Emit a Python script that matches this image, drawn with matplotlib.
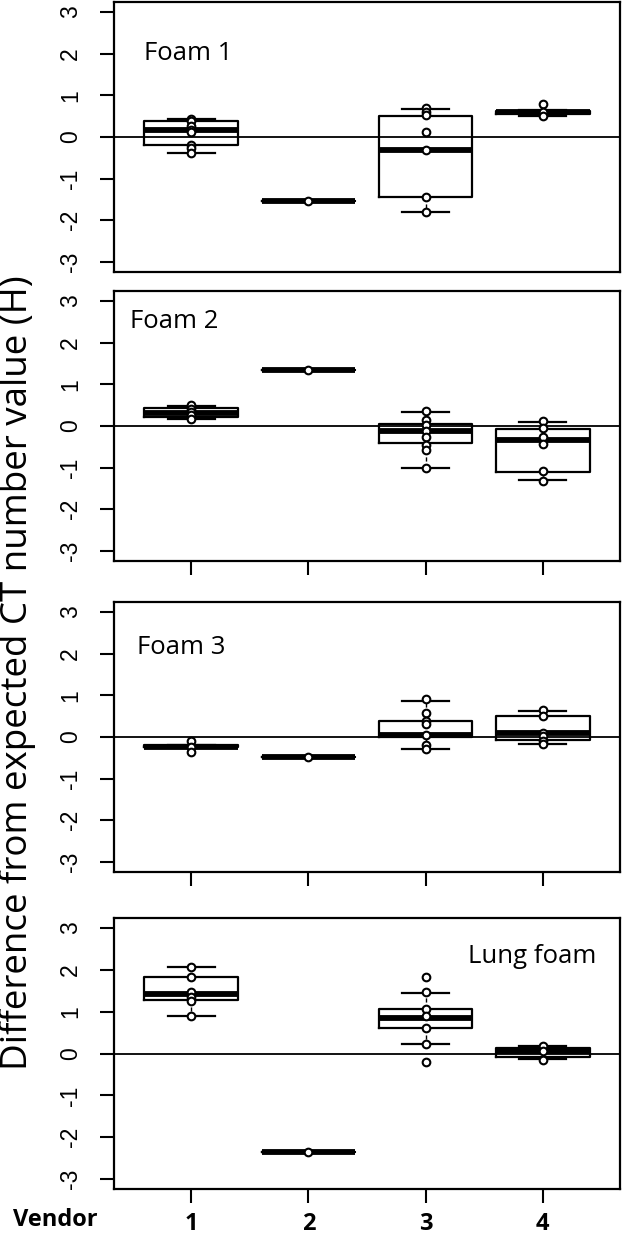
import matplotlib
matplotlib.use("Agg")
import matplotlib.pyplot as plt
from matplotlib import font_manager

# ---------------- data ----------------
panel_names = ["Foam 1", "Foam 2", "Foam 3", "Lung foam"]
vendors = [1, 2, 3, 4]
vendor_labels = ["1", "2", "3", "4"]
y_ticks = [-3, -2, -1, 0, 1, 2, 3]

# Foam 1
foam1_q1 = [-0.20, -1.53, -1.44, 0.55]
foam1_med = [0.17, -1.53, -0.30, 0.60]
foam1_q3 = [0.38, -1.53, 0.50, 0.63]
foam1_lo = [-0.38, -1.53, -1.80, 0.50]
foam1_hi = [0.43, -1.53, 0.68, 0.65]
foam1_pts = [[0.43, 0.38, 0.27, 0.17, 0.12, -0.20, -0.27, -0.38],
             [-1.53],
             [0.70, 0.60, 0.52, 0.12, -0.30, -1.44, -1.80],
             [0.79, 0.60, 0.50]]

# Foam 2
foam2_q1 = [0.21, 1.35, -0.41, -1.10]
foam2_med = [0.31, 1.35, -0.13, -0.33]
foam2_q3 = [0.43, 1.35, 0.04, -0.07]
foam2_lo = [0.17, 1.35, -1.01, -1.30]
foam2_hi = [0.48, 1.35, 0.34, 0.10]
foam2_pts = [[0.50, 0.42, 0.33, 0.27, 0.18],
             [1.35],
             [0.36, 0.15, 0.02, -0.12, -0.27, -0.45, -0.58, -1.01],
             [0.12, -0.05, -0.26, -0.43, -1.08, -1.32]]

# Foam 3
foam3_q1 = [-0.25, -0.48, 0.00, -0.07]
foam3_med = [-0.23, -0.48, 0.04, 0.09]
foam3_q3 = [-0.20, -0.48, 0.39, 0.51]
foam3_lo = [-0.25, -0.48, -0.30, -0.16]
foam3_hi = [-0.20, -0.48, 0.87, 0.62]
foam3_pts = [[-0.09, -0.23, -0.35],
             [-0.48],
             [0.90, 0.58, 0.38, 0.32, 0.04, -0.20, -0.30],
             [0.64, 0.50, 0.10, 0.02, -0.10, -0.17]]

# Lung foam
lung_q1 = [1.27, -2.35, 0.60, -0.09]
lung_med = [1.42, -2.35, 0.86, 0.05]
lung_q3 = [1.84, -2.35, 1.06, 0.14]
lung_lo = [0.89, -2.35, 0.22, -0.14]
lung_hi = [2.07, -2.35, 1.45, 0.19]
lung_pts = [[2.08, 1.84, 1.47, 1.36, 1.25, 0.89],
            [-2.35],
            [1.82, 1.46, 1.06, 0.90, 0.62, 0.22, -0.20],
            [0.19, 0.05, -0.15]]

panels = [
    (foam1_q1, foam1_med, foam1_q3, foam1_lo, foam1_hi, foam1_pts),
    (foam2_q1, foam2_med, foam2_q3, foam2_lo, foam2_hi, foam2_pts),
    (foam3_q1, foam3_med, foam3_q3, foam3_lo, foam3_hi, foam3_pts),
    (lung_q1, lung_med, lung_q3, lung_lo, lung_hi, lung_pts),
]

# label positions (data coords) and alignment
label_pos = [(0.60, 2.0, "left"), (0.48, 2.52, "left"),
             (0.54, 2.14, "left"), (4.46, 2.33, "right")]

# ---------------- fonts ----------------
available = {f.name for f in font_manager.fontManager.ttflist}
label_font = "Open Sans" if "Open Sans" in available else "DejaVu Sans"
tick_font = "Liberation Sans" if "Liberation Sans" in available else "DejaVu Sans"

# ---------------- figure ----------------
W, H = 622, 1236
fig = plt.figure(figsize=(W / 100, H / 100), dpi=100)

# axes boxes in pixels (left, top, right, bottom)
boxes_px = [(114, 2, 620, 272), (114, 291, 620, 561),
            (114, 602, 620, 872), (114, 918, 620, 1189)]

for i, ((q1, med, q3, lo, hi, pts), (l, t, r, b)) in enumerate(zip(panels, boxes_px)):
    ax = fig.add_axes([l / W, 1 - b / H, (r - l) / W, (b - t) / H])
    stats = []
    for k in range(len(vendors)):
        stats.append(dict(q1=q1[k], med=med[k], q3=q3[k],
                          whislo=lo[k], whishi=hi[k], fliers=[]))
    ax.axhline(0, color="black", lw=1.3, zorder=1)
    ax.bxp(stats, positions=vendors, widths=0.8, capwidths=0.4,
           showfliers=False, patch_artist=False,
           boxprops=dict(color="black", lw=1.6),
           medianprops=dict(color="black", lw=4.2, solid_capstyle="butt"),
           whiskerprops=dict(color="black", lw=1.0, ls=(0, (3, 2))),
           capprops=dict(color="black", lw=1.6))
    for v, p in zip(vendors, pts):
        ax.plot([v] * len(p), p, "o", mfc="white", mec="black",
                ms=5.5, mew=1.5, zorder=5)

    ax.set_xlim(0.34, 4.66)
    ax.set_ylim(-3.24, 3.24)
    ax.set_yticks(y_ticks)
    ax.set_yticklabels([str(v) for v in y_ticks], rotation=90, va="center",
                       fontfamily=tick_font, fontsize=16.5)
    ax.tick_params(axis="y", length=10, width=1.5, pad=13)
    ax.set_xticks(vendors)
    if i == 0:
        ax.tick_params(axis="x", bottom=False, labelbottom=False)
    elif i < 3:
        ax.tick_params(axis="x", length=10, width=1.5, labelbottom=False)
    else:
        ax.set_xticklabels(vendor_labels, fontfamily=label_font,
                           fontweight="bold", fontsize=17, va="baseline")
        ax.tick_params(axis="x", length=10, width=1.5, pad=19.5)
    for s in ax.spines.values():
        s.set_linewidth(1.6)

    lx, ly, ha = label_pos[i]
    ax.text(lx, ly, panel_names[i], ha=ha, va="center",
            fontfamily=label_font, fontsize=18.5)

fig.text(13 / W, 1 - 1226 / H, "Vendor", ha="left", va="baseline",
         fontfamily=label_font, fontweight="bold", fontsize=17)
fig.text(18 / W, 1 - 673 / H, "Difference from expected CT number value (H)",
         rotation=90, ha="center", va="center",
         fontfamily=label_font, fontsize=26.5)

fig.savefig("out.png", dpi=100)
